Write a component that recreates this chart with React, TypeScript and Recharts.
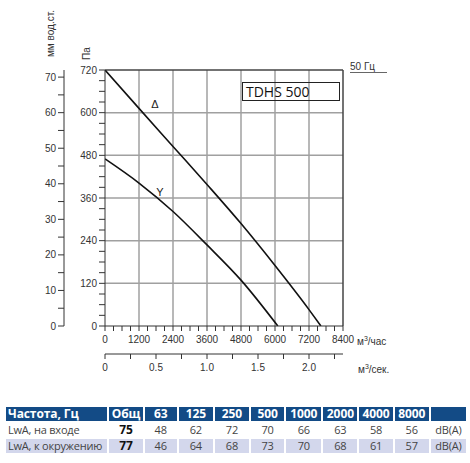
import { LineChart, Line, XAxis, YAxis, ReferenceLine, ReferenceDot } from 'recharts'

// air flow, m3/h
const flowTicks = [0, 300, 600, 900, 1200, 1500, 1800, 2100, 2400, 2700, 3000, 3300, 3600, 3900, 4200, 4500, 4800, 5100, 5400, 5700, 6000, 6300, 6600, 6900, 7200, 7500, 7800, 8100, 8400]
const flowLabels = [0, 1200, 2400, 3600, 4800, 6000, 7200, 8400]
// air flow, m3/s
const secTicks = [0, 0.25, 0.5, 0.75, 1, 1.25, 1.5, 1.75, 2, 2.25]
const secLabels = [0, 0.5, 1, 1.5, 2]
// pressure, Pa
const paTicks = [0, 30, 60, 90, 120, 150, 180, 210, 240, 270, 300, 330, 360, 390, 420, 450, 480, 510, 540, 570, 600, 630, 660, 690, 720]
const paLabels = [0, 120, 240, 360, 480, 600, 720]
// pressure, mm water
const mmTicks = [0, 5, 10, 15, 20, 25, 30, 35, 40, 45, 50, 55, 60, 65, 70]
const mmLabels = [0, 10, 20, 30, 40, 50, 60, 70]

// curves
const deltaFlow = [0, 1200, 2400, 3600, 4800, 6000, 7200, 7620]
const deltaPa = [720, 612, 505, 398, 288, 170, 46, 0]
const starFlow = [0, 1200, 2400, 3600, 4800, 6100]
const starPa = [470, 402, 322, 228, 129, 0]

// noise table
const freqHeaders = ['Общ', '63', '125', '250', '500', '1000', '2000', '4000', '8000']
const inletLwa = [75, 48, 62, 72, 70, 66, 63, 58, 56]
const ambientLwa = [77, 46, 64, 68, 73, 70, 68, 61, 57]

const deltaData = deltaFlow.map((q, i) => ({ q, s: q / 3600, p: deltaPa[i] }))
const starData = starFlow.map((q, i) => ({ q, s: q / 3600, p: starPa[i] }))

const FONT = '"Liberation Sans", Arial, sans-serif'
const TFONT = '"Open Sans", "Noto Sans", sans-serif'

function bottomTick(labels: number[], fmt: (v: number) => string) {
  return (props: any) => {
    const { x, y, payload } = props
    const v = payload.value
    return (
      <g>
        <line x1={x} x2={x} y1={y} y2={y + 5} stroke="#333" />
        {labels.includes(v) && (
          <text x={x} y={y + 17} textAnchor="middle" fontSize={10} fill="#333" fontFamily={FONT}>
            {fmt(v)}
          </text>
        )}
      </g>
    )
  }
}

function leftTick(labels: number[]) {
  return (props: any) => {
    const { x, y, payload } = props
    const v = payload.value
    return (
      <g>
        <line x1={x - 6} x2={x} y1={y} y2={y} stroke="#333" />
        {labels.includes(v) && (
          <text x={x - 8} y={y + 3.5} textAnchor="end" fontSize={10} fill="#333" fontFamily={FONT}>
            {v}
          </text>
        )}
      </g>
    )
  }
}

const abs = (left: number, top: number, extra: any = {}) => ({
  position: 'absolute' as const,
  left,
  top,
  fontFamily: FONT,
  color: '#333',
  fontSize: 10,
  whiteSpace: 'nowrap' as const,
  lineHeight: 1,
  ...extra,
})

const cell = (extra: any = {}) => ({
  padding: 0,
  textAlign: 'center' as const,
  lineHeight: '14px',
  whiteSpace: 'nowrap' as const,
  ...extra,
})

export default function App() {
  return (
    <div style={{ position: 'absolute', left: 0, top: 0, width: 470, height: 463, background: '#fff' }}>
      <LineChart width={470} height={390} margin={{ top: 70, right: 127, bottom: 14, left: 14 }}>
        <XAxis
          xAxisId="a_flow"
          dataKey="q"
          type="number"
          domain={[0, 8400]}
          ticks={flowTicks}
          interval={0}
          allowDataOverflow
          height={28}
          tickSize={0}
          tickMargin={0}
          axisLine={{ stroke: '#333' }}
          tick={bottomTick(flowLabels, (v) => String(v))}
        />
        <XAxis
          xAxisId="b_sec"
          dataKey="s"
          type="number"
          domain={[0, 8400 / 3600]}
          ticks={secTicks}
          interval={0}
          allowDataOverflow
          height={22}
          tickSize={0}
          tickMargin={0}
          axisLine={{ stroke: '#333' }}
          tick={bottomTick(secLabels, (v) => (v === 0 ? '0' : v.toFixed(1)))}
        />
        <YAxis
          yAxisId="a_pa"
          type="number"
          domain={[0, 720]}
          ticks={paTicks}
          interval={0}
          allowDataOverflow
          width={41}
          tickSize={0}
          tickMargin={0}
          axisLine={{ stroke: '#333' }}
          tick={leftTick(paLabels)}
        />
        <YAxis
          yAxisId="b_mm"
          type="number"
          domain={[0, 72]}
          ticks={mmTicks}
          interval={0}
          allowDataOverflow
          width={50}
          tickSize={0}
          tickMargin={0}
          axisLine={{ stroke: '#333' }}
          tick={leftTick(mmLabels)}
        />
        {flowLabels.slice(1, -1).map((v) => (
          <ReferenceLine key={'vx' + v} xAxisId="a_flow" yAxisId="a_pa" x={v} stroke="#a0a0a0" strokeWidth={1.5} />
        ))}
        {paLabels.slice(1, -1).map((v) => (
          <ReferenceLine key={'hy' + v} xAxisId="a_flow" yAxisId="a_pa" y={v} stroke="#a0a0a0" strokeWidth={1.5} />
        ))}
        <ReferenceLine xAxisId="a_flow" yAxisId="a_pa" y={720} stroke="#444" strokeWidth={1.5} />
        <ReferenceLine xAxisId="a_flow" yAxisId="a_pa" x={8400} stroke="#444" strokeWidth={1.5} />
        {/* invisible series bound to the m3/s and mm axes so they get drawn */}
        <Line
          xAxisId="b_sec"
          yAxisId="b_mm"
          data={starData}
          dataKey="p"
          stroke="none"
          dot={false}
          activeDot={false}
          legendType="none"
          isAnimationActive={false}
        />
        <Line
          xAxisId="a_flow"
          yAxisId="a_pa"
          data={deltaData}
          dataKey="p"
          type="monotone"
          stroke="#111"
          strokeWidth={1.6}
          dot={false}
          isAnimationActive={false}
        />
        <Line
          xAxisId="a_flow"
          yAxisId="a_pa"
          data={starData}
          dataKey="p"
          type="monotone"
          stroke="#111"
          strokeWidth={1.6}
          dot={false}
          isAnimationActive={false}
        />
        <ReferenceDot
          xAxisId="a_flow"
          yAxisId="a_pa"
          x={1760}
          y={623}
          r={0}
          label={{ value: 'Δ', fontSize: 11, fill: '#222', fontFamily: FONT }}
        />
        <ReferenceDot
          xAxisId="a_flow"
          yAxisId="a_pa"
          x={1940}
          y={377}
          r={0}
          label={{ value: 'Y', fontSize: 11, fill: '#222', fontFamily: FONT }}
        />
      </LineChart>

      <div style={abs(46, 57, { transform: 'rotate(-90deg)', transformOrigin: 'left top', fontSize: 10 })}>мм вод.ст.</div>
      <div style={abs(82, 60, { transform: 'rotate(-90deg)', transformOrigin: 'left top', fontSize: 10 })}>Па</div>
      <div style={abs(350, 62, { fontSize: 10 })}>50 Гц</div>
      <div style={{ position: 'absolute', left: 350, top: 72, width: 37, height: 0, borderTop: '1.5px solid #666' }} />
      <div
        style={{
          position: 'absolute',
          left: 242,
          top: 82,
          width: 93,
          height: 17,
          border: '1px solid #222',
          fontFamily: TFONT,
          fontSize: 14,
          lineHeight: '17px',
          paddingLeft: 3,
          color: '#111',
          boxSizing: 'content-box',
        }}
      >
        TDHS 500
      </div>
      <div style={abs(357, 335)}>
        м<sup style={{ fontSize: 7 }}>3</sup>/час
      </div>
      <div style={abs(358, 363)}>
        м<sup style={{ fontSize: 7 }}>3</sup>/сек.
      </div>

      <table
        style={{
          position: 'absolute',
          left: 4,
          top: 405,
          borderCollapse: 'separate',
          borderSpacing: '2px 2px',
          tableLayout: 'fixed',
          width: 464,
          fontFamily: TFONT,
          fontSize: 11,
          letterSpacing: -0.2,
          color: '#444',
        }}
      >
        <colgroup>
          <col style={{ width: 101 }} />
          {[33, 32, 34, 34, 33, 35, 34, 33, 34, 35].map((w, i) => (
            <col key={i} style={{ width: w }} />
          ))}
        </colgroup>
        <tbody>
          <tr style={{ background: '#134b86', color: '#fff', fontWeight: 700, fontSize: 12, letterSpacing: -0.1 }}>
            <td style={cell({ textAlign: 'left', padding: '0 2px' })}>Частота, Гц</td>
            {freqHeaders.map((h) => (
              <td key={h} style={cell()}>
                {h}
              </td>
            ))}
            <td style={cell()} />
          </tr>
          <tr>
            <td style={cell({ textAlign: 'left', padding: '0 2px' })}>LwA, на входе</td>
            {inletLwa.map((v, i) => (
              <td key={i} style={cell({ fontWeight: i === 0 ? 700 : 400, color: i === 0 ? '#111' : '#444', fontSize: i === 0 ? 12 : 11 })}>
                {v}
              </td>
            ))}
            <td style={cell()}>dB(A)</td>
          </tr>
          <tr style={{ background: '#d3d7ec' }}>
            <td style={cell({ textAlign: 'left', padding: '0 2px' })}>LwA, к окружению</td>
            {ambientLwa.map((v, i) => (
              <td key={i} style={cell({ fontWeight: i === 0 ? 700 : 400, color: i === 0 ? '#111' : '#444', fontSize: i === 0 ? 12 : 11 })}>
                {v}
              </td>
            ))}
            <td style={cell()}>dB(A)</td>
          </tr>
        </tbody>
      </table>
    </div>
  )
}
